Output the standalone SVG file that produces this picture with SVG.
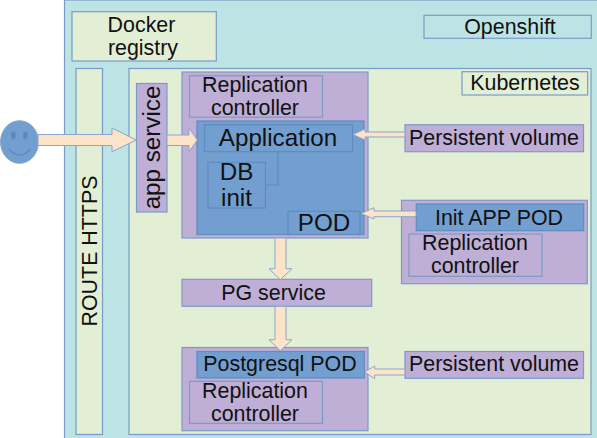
<svg xmlns="http://www.w3.org/2000/svg" width="597" height="438" viewBox="0 0 597 438">
<style>
.t{font-family:"Liberation Sans",Arial,sans-serif;fill:#111;text-anchor:middle;font-size:21.400px}
.l{font-size:24.200px}
.b{stroke:#7a9bc8;stroke-width:1.2}
.os{fill:#bce4e4}.k{fill:#e2efd5}.p{fill:#bfaed5}.d{fill:#729fcf;stroke:#5f8cc0;stroke-width:1.2}
.a{fill:#fde4c8;stroke:#8aa6cc;stroke-width:1}
</style>
<rect width="597" height="438" fill="#fff"/>
<g id="openshift-zone"><rect class="os b" x="64.500" y="0" width="540" height="445"/></g>
<g id="docker-registry"><rect class="k b" x="72" y="11.700" width="144.300" height="49.300"/><text class="t" x="141.500" y="31.500">Docker</text><text class="t" x="143" y="54.500">registry</text></g>
<g id="openshift"><rect class="os b" x="424" y="15.300" width="167.300" height="23"/><text class="t" x="510" y="33.500">Openshift</text></g>
<g id="route"><rect class="k b" x="76" y="68.500" width="26.500" height="366"/><text class="t" transform="translate(96.500,251) rotate(-90)">ROUTE HTTPS</text></g>
<g id="kubernetes-zone"><rect class="k b" x="129" y="68.500" width="462" height="366"/></g>
<g id="kubernetes"><rect class="k b" x="462" y="71.700" width="125.700" height="23.300"/><text class="t" x="525" y="90">Kubernetes</text></g>
<g id="app-service"><rect class="p b" x="136.500" y="83.500" width="30.500" height="128.500"/><text class="t l" transform="translate(160,147.500) rotate(-90)">app service</text></g>
<g id="app-rc"><rect class="p b" x="182" y="72" width="186" height="166"/><rect class="p b" x="189.500" y="75.700" width="133" height="41.500"/><text class="t" x="255" y="92">Replication</text><text class="t" x="255" y="115">controller</text></g>
<g id="pod"><rect class="d" x="197" y="121" width="167" height="113.500"/><rect class="d" x="204.500" y="124.700" width="148" height="27"/><text class="t l" x="278" y="146">Application</text><path d="M278 152V185H265" fill="none" stroke="#5f8cc0" stroke-width="1.200"/><rect class="d" x="208" y="162.300" width="57.500" height="45.700"/><text class="t l" x="236.500" y="179.500">DB</text><text class="t l" x="236.500" y="206">init</text><rect class="d" x="288" y="211.300" width="72" height="23.200"/><text class="t l" x="324" y="231">POD</text></g>
<g id="pv-top"><rect class="p b" x="405" y="124.700" width="178.500" height="27"/><text class="t" x="494" y="145">Persistent volume</text></g>
<g id="init-rc"><rect class="p b" x="401.500" y="200.300" width="185.800" height="83.400"/><rect class="d" x="416.300" y="204" width="167.400" height="26.700"/><text class="t" x="499" y="225">Init APP POD</text><rect class="p b" x="409" y="234" width="133" height="42.300"/><text class="t" x="475" y="250">Replication</text><text class="t" x="475" y="273">controller</text></g>
<g id="pg-service"><rect class="p b" x="182" y="279.300" width="189.700" height="27"/><text class="t" x="273.500" y="300">PG service</text></g>
<g id="pg-rc"><rect class="p b" x="182" y="347.500" width="186" height="83.200"/><rect class="d" x="197" y="351.500" width="167.300" height="26.500"/><text class="t" x="280" y="371">Postgresql POD</text><rect class="p b" x="189.500" y="381.300" width="133" height="42"/><text class="t" x="255" y="398">Replication</text><text class="t" x="255" y="421">controller</text></g>
<g id="pv-bottom"><rect class="p b" x="405" y="351.500" width="178.500" height="26.800"/><text class="t" x="494" y="371">Persistent volume</text></g>
<g id="user"><ellipse cx="19.500" cy="142" rx="19" ry="21.300" fill="#729fcf" stroke="#8aa6cc"/><ellipse cx="13.300" cy="135.500" rx="2.300" ry="4" fill="#5b8abf"/><ellipse cx="25.300" cy="135.500" rx="2.300" ry="4" fill="#5b8abf"/><path d="M8.500 149Q19.500 161 30.500 149" fill="none" stroke="#5b8abf" stroke-width="1.200"/></g>
<g id="connectors">
<path class="a" d="M38 134.500H112V128L136.300 140L112 151.700V145.500H38Z"/>
<path class="a" d="M167 135H189V128L197.300 140L189 151.700V145.500H167Z"/>
<path class="a" d="M405 132H365V129L353 134.500L365 140V137H405Z"/>
<path class="a" d="M416 211H374V207.700L361 213.500L374 219V216.700H416Z"/>
<path class="a" d="M275 238H286V268.700H292L280.300 279.700L269 268.700H275Z"/>
<path class="a" d="M275 306.300H286V339.700H292L280.300 350.700L269 339.700H275Z"/>
<path class="a" d="M405 369H374.700V366L364.700 372L374.700 378.700V375H405Z"/>
</g>
</svg>
